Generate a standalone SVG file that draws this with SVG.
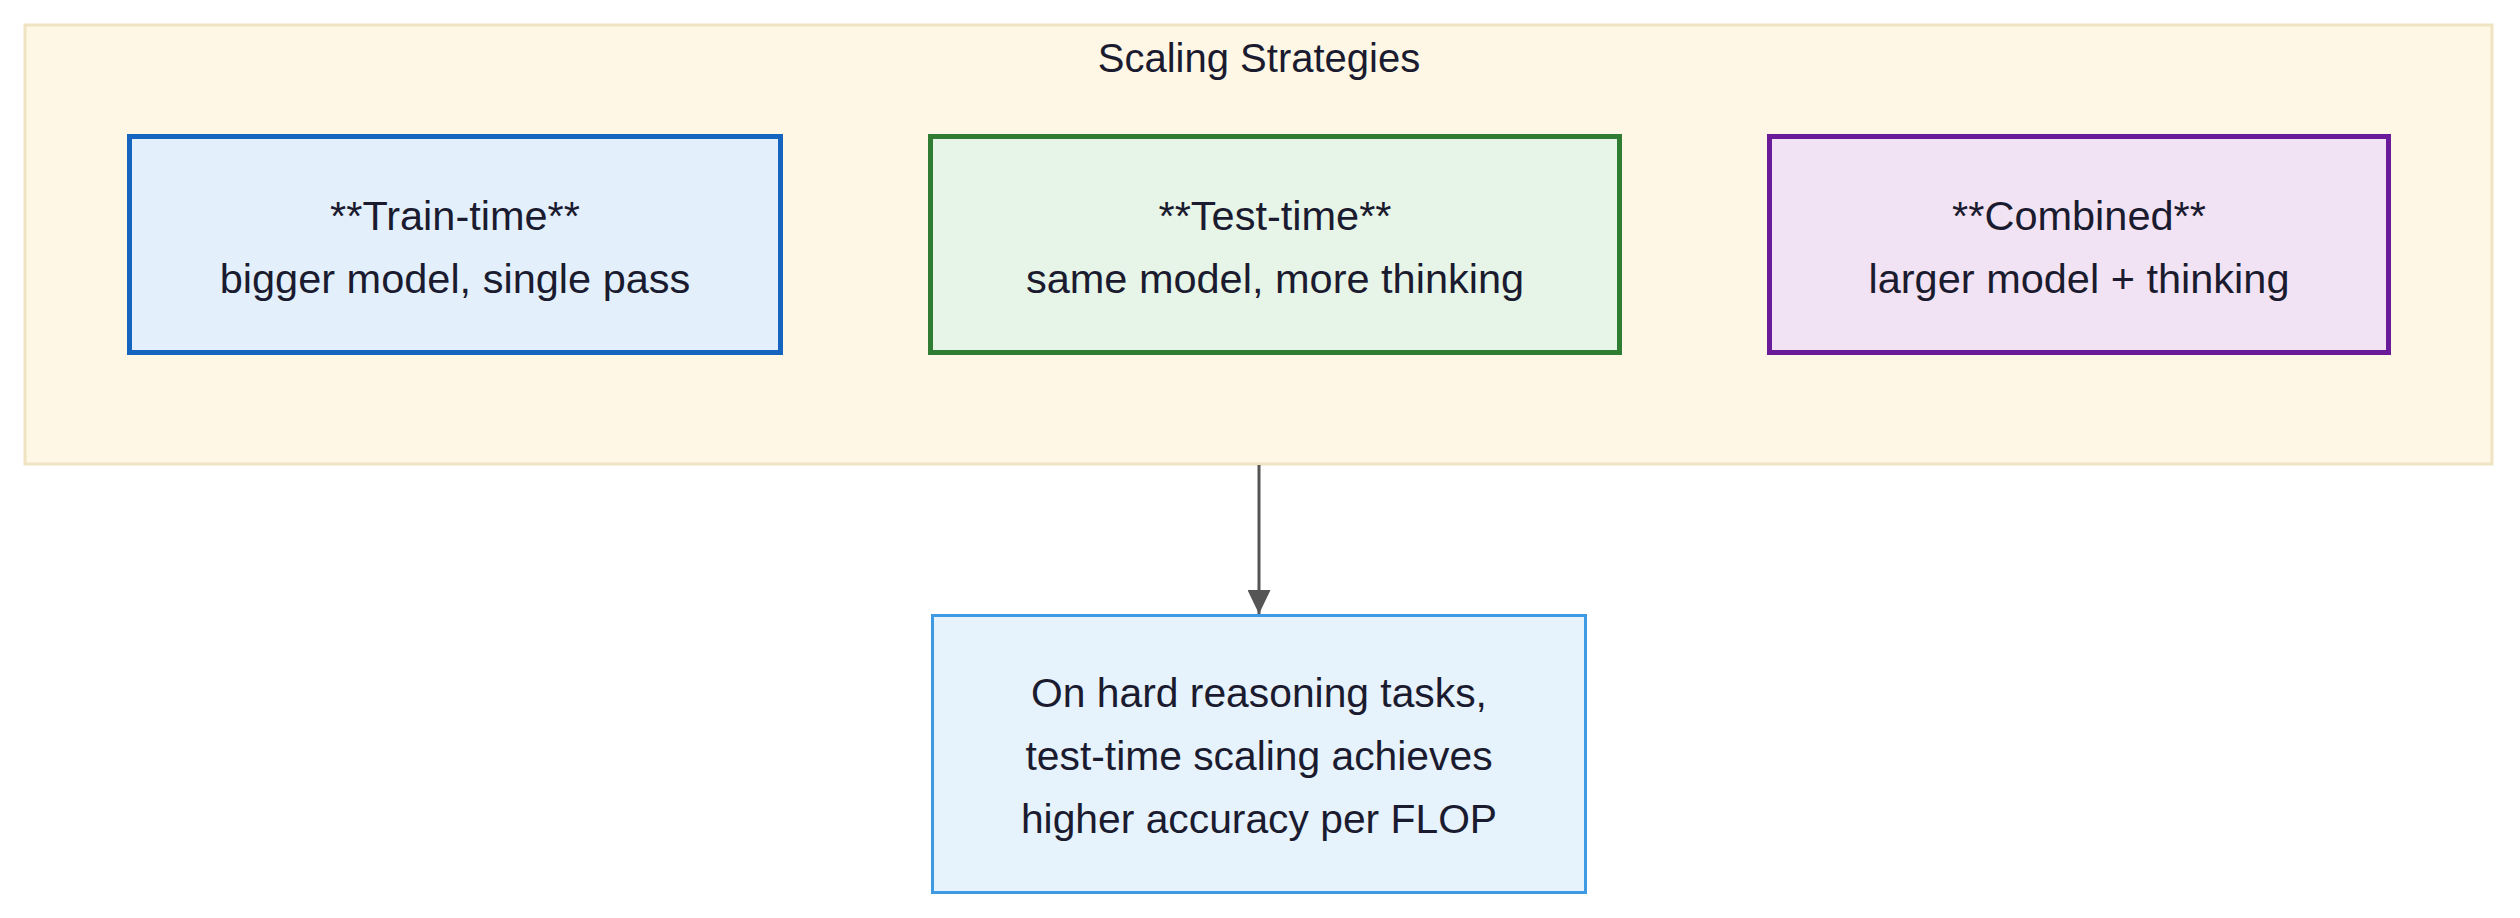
<svg xmlns="http://www.w3.org/2000/svg" width="2520" height="918" viewBox="0 0 2520 918">
<style>
  text { font-family: "Liberation Sans", Arial, sans-serif; font-size: 41.5px; fill: #1b1b2f; text-anchor: middle; }
  .title { font-size: 40px; }
  .result { font-size: 40.8px; }
  .node rect { stroke-width: 5; }
</style>
<defs>
  <marker id="arrow" viewBox="0 0 24 23" refX="24" refY="11.5" markerWidth="24" markerHeight="23" markerUnits="userSpaceOnUse" orient="auto">
    <path d="M0,0 L24,11.5 L0,23 z" fill="#555555"/>
  </marker>
</defs>
<rect width="2520" height="918" fill="#ffffff"/>
<g id="cluster-scaling">
  <rect x="25" y="25" width="2467" height="439" fill="#FEF7E6" stroke="#EFE3C2" stroke-width="3"/>
  <text class="title" x="1259" y="72">Scaling Strategies</text>
</g>
<g id="connectors">
  <line x1="1259" y1="465" x2="1259" y2="614" stroke="#555555" stroke-width="3" marker-end="url(#arrow)"/>
</g>
<g id="node-train" class="node">
  <rect x="129.5" y="136.5" width="651" height="216" fill="#E3F0FC" stroke="#1565C0"/>
  <text x="455" y="230">**Train-time**</text>
  <text x="455" y="293">bigger model, single pass</text>
</g>
<g id="node-test" class="node">
  <rect x="930.5" y="136.5" width="689" height="216" fill="#E7F4E8" stroke="#2E7D32"/>
  <text x="1275" y="230">**Test-time**</text>
  <text x="1275" y="293">same model, more thinking</text>
</g>
<g id="node-combined" class="node">
  <rect x="1769.5" y="136.5" width="619" height="216" fill="#F2E3F4" stroke="#6A1B9A"/>
  <text x="2079" y="230">**Combined**</text>
  <text x="2079" y="293">larger model + thinking</text>
</g>
<g id="node-result">
  <rect x="932.5" y="615.5" width="653" height="277" fill="#E6F2FC" stroke="#3E9BE3" stroke-width="3"/>
  <text class="result" x="1259" y="707">On hard reasoning tasks,</text>
  <text class="result" x="1259" y="770">test-time scaling achieves</text>
  <text class="result" x="1259" y="833">higher accuracy per FLOP</text>
</g>
</svg>
